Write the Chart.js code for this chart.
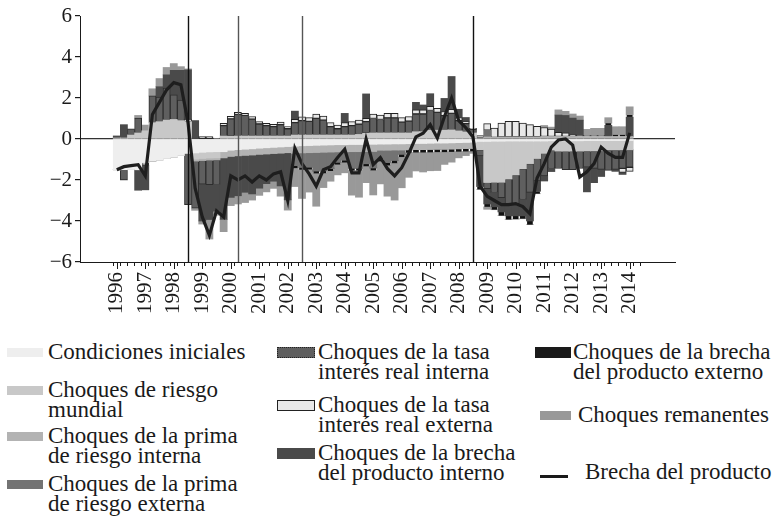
<!DOCTYPE html>
<html lang="es">
<head>
<meta charset="utf-8">
<title>Descomposición histórica de la brecha del producto</title>
<script src="https://cdn.jsdelivr.net/npm/chart.js@4.4.1/dist/chart.umd.min.js"></script>
<style>
  html, body { margin: 0; padding: 0; background: #fff; }
  body { width: 780px; height: 519px; position: relative; overflow: hidden;
         font-family: "Liberation Serif", "Times New Roman", serif; color: #1a1a1a; }
  #wrap { position: absolute; left: 0; top: 0; width: 780px; height: 330px; }
  .txt { position: absolute; font-size: 23px; line-height: 19.5px; white-space: nowrap; }
  .sw { position: absolute; box-sizing: border-box; }
</style>
</head>
<body>
<div id="wrap"><canvas id="chart" width="780" height="330"></canvas></div>

<!-- legend, three columns as in the source -->
<div class="sw" style="left:7px;top:348px;width:36px;height:9px;background:#eeeeee"></div>
<div class="txt" style="left:48px;top:342px">Condiciones iniciales</div>
<div class="sw" style="left:7px;top:386px;width:36px;height:9px;background:#c8c8c8"></div>
<div class="txt" style="left:48px;top:380px">Choques de riesgo<br>mundial</div>
<div class="sw" style="left:7px;top:432px;width:36px;height:9px;background:#b3b3b3"></div>
<div class="txt" style="left:48px;top:426px">Choques de la prima<br>de riesgo interna</div>
<div class="sw" style="left:7px;top:480px;width:36px;height:9px;background:#737373"></div>
<div class="txt" style="left:48px;top:474px">Choques de la prima<br>de riesgo externa</div>

<div class="sw" style="left:277px;top:347px;width:38px;height:11px;background:#5f5f5f;border:1px dotted #222"></div>
<div class="txt" style="left:318px;top:342px">Choques de la tasa<br>interés real interna</div>
<div class="sw" style="left:277px;top:400px;width:38px;height:11px;background:#e8e8e8;border:1px solid #222"></div>
<div class="txt" style="left:318px;top:395px">Choques de la tasa<br>interés real externa</div>
<div class="sw" style="left:277px;top:448px;width:38px;height:11px;background:#4a4a4a"></div>
<div class="txt" style="left:318px;top:443px">Choques de la brecha<br>del producto interno</div>

<div class="sw" style="left:535px;top:347px;width:36px;height:11px;background:#1a1a1a"></div>
<div class="txt" style="left:573px;top:342px">Choques de la brecha<br>del producto externo</div>
<div class="sw" style="left:540px;top:411px;width:31px;height:9px;background:#999999"></div>
<div class="txt" style="left:578px;top:405px">Choques remanentes</div>
<div class="sw" style="left:540px;top:475px;width:28px;height:3px;background:#1a1a1a"></div>
<div class="txt" style="left:585px;top:462px">Brecha del producto</div>

<script>
// quarterly, 1996T1 .. 2014T1 (73 quarters); year labels sit on each first quarter
const yearLabels = ['1996', '1997', '1998', '1999', '2000', '2001', '2002', '2003', '2004', '2005',
                    '2006', '2007', '2008', '2009', '2010', '2011', '2012', '2013', '2014'];

const condicionesIniciales = [
  -1.5, -1.5, -1.45, -1.5, -1.15, -1.07, -1.02, -0.95, -0.88, -0.8,
  -0.7, -0.68, -0.65, -0.63, -0.62, -0.62, -0.55, -0.52, -0.5, -0.48,
  -0.45, -0.43, -0.41, -0.39, -0.37, -0.35, -0.33, -0.32, -0.31, -0.3,
  -0.29, -0.28, -0.28, -0.27, -0.27, -0.26, -0.26, -0.25, -0.25, -0.24,
  -0.24, -0.23, -0.22, -0.22, -0.21, -0.2, -0.2, -0.19, -0.18, -0.17,
  -0.16, -0.12, -0.12, -0.11, -0.11, -0.1, -0.1, -0.1, -0.1, -0.1,
  -0.1, -0.09, -0.09, -0.09, -0.09, -0.09, -0.08, -0.08, -0.08, -0.08,
  -0.08, -0.08, -0.08
];
const riesgoMundial = [
  0.05, 0.05, 0.2, 0.3, 0.4, 0.8, 0.85, 0.93, 0.95, 0.9,
  0.85, -0.3, -0.3, -0.3, -0.3, 0.15, 0.13, 0.15, 0.15, 0.15,
  0.15, 0.15, 0.15, 0.15, 0.15, 0.2, 0.2, 0.2, 0.2, 0.2,
  0.2, 0.2, 0.2, 0.2, 0.22, 0.28, 0.3, 0.3, 0.3, 0.3,
  0.3, 0.3, 0.36, 0.36, 0.44, 0.44, 0.44, 0.45, 0.4, 0.35,
  0.3, -0.4, -2.0, -2.0, -2.0, -1.85, -1.65, -1.35, -1.1, -0.85,
  -0.6, -0.45, -0.5, -0.5, -0.5, -0.5, -0.5, -0.5, -0.5, -0.45,
  -0.45, -0.45, -0.45
];
const primaInterna = [
  0, 0, 0, 0, 0, 0, 0, 0, 0, 0,
  0, -0.1, -0.1, -0.1, -0.1, -0.3, -0.3, -0.3, -0.3, -0.3,
  -0.3, -0.3, -0.3, -0.3, -0.3, -0.35, -0.35, -0.35, -0.35, -0.35,
  -0.35, -0.35, -0.35, -0.35, -0.35, -0.35, -0.35, -0.3, -0.3, -0.3,
  -0.3, -0.3, -0.3, -0.3, -0.3, -0.3, -0.3, -0.3, -0.3, -0.3,
  -0.3, 0.05, 0.1, 0.08, 0.1, 0.1, 0.1, 0.1, 0.1, 0.1,
  0.12, 0.12, 0.12, 0.12, 0.12, 0.12, 0.12, 0.12, 0.12, 0.12,
  0.12, 0.12, 0.12
];
const primaExterna = [
  0, 0, 0, 0, 0, 0, 0, 0, 0, 0,
  0, 0, 0, 0, 0, 0, 0, 0, 0, 0,
  0, 0, 0, 0, 0, -0.6, -0.7, -0.7, -0.9, -0.9,
  -0.8, -0.5, -0.4, -0.8, -0.8, -0.6, -0.8, -0.4, -0.6, -0.5,
  -0.2, 0, 0, 0, 0, 0, 0, 0, 0, 0,
  0, 0, 0.33, 0, 0, 0, 0, 0, 0, 0,
  0, 0, 0, 0, 0, 0, 0, 0, 0, 0,
  0, 0, 0
];
const tasaInterna = [
  0, -0.5, 0.3, 0.72, 0, 1.3, 1.2, 1.55, 1.2, 1.0,
  -2.5, -2.3, -1.15, -1.2, -1.2, 0.5, 0.85, 1.05, 1.0, 0.82,
  0.58, 0.5, 0.45, 0.55, 0.35, 0.6, 0.7, 0.66, 0.81, 0.72,
  0.4, 0.3, 0.4, 0.45, 0.5, 0.57, 0.7, 0.65, 0.73, 0.73,
  0.52, 0.57, 0.86, 0.86, 0.95, 0.86, 0.7, 0.8, 0.5, 0.4,
  0.17, -0.3, -0.3, -0.5, -0.75, -1.2, -1.4, -1.5, -1.4, -1.1,
  -1.1, -0.9, -0.85, -0.9, -0.9, -0.85, -0.8, -0.85, -0.9, -1.0,
  -0.95, -0.9, -0.85
];
const tasaExterna = [
  0, 0, 0, 0, -0.13, 0, 0, 0, 0, 0,
  0.12, 0, 0.12, 0.12, 0.05, 0.12, 0.12, 0.1, 0.1, 0.12,
  0.12, 0.12, 0.12, 0.12, 0.1, 0.16, 0.18, 0.18, 0.2, 0.2,
  0.2, 0.18, 0.2, 0.2, 0.2, 0.16, 0.22, 0.22, 0.22, 0.22,
  0.22, 0.22, 0.2, 0.2, 0.2, 0.2, 0.2, 0.2, 0.15, 0.1,
  0.05, 0.12, 0.32, 0.45, 0.68, 0.76, 0.76, 0.68, 0.6, 0.52,
  0.44, 0.36, 0.2, 0.18, 0.1, 0.05, 0.05, 0.05, 0.05, 0,
  0, -0.2, -0.2
];
const brechaInterno = [
  0.1, 0.65, 0, -1.0, -1.2, 0, 0.5, 0.65, 1.2, 1.45,
  2.4, 0.9, -1.8, -1.7, -1.3, -3.0, -2.0, -1.95, -1.8, -1.9,
  -1.65, -1.45, -1.35, -1.6, -2.3, 0.4, 0, 0, 0, 0,
  0, 0, 0.45, 0, 0, 1.19, 0, 0, 0, 0,
  0, 0, 0.37, 0.24, 0.62, 0, 0.64, 1.6, 0.4, 0.2,
  0, -1.5, -0.75, -0.7, -0.7, -0.6, -0.6, -0.8, -1.4, -0.5,
  -0.25, -0.15, 0.85, 0.85, 0.8, 0.75, -1.2, -0.7, -0.35, 0.55,
  -0.1, -0.1, 0.95
];
const brechaExterno = [
  0, 0, 0, 0, 0, 0, 0, 0, 0, 0,
  0, 0, 0, 0, 0, 0, 0, 0, 0, 0,
  0, 0, 0, 0, 0, -0.12, -0.12, -0.12, -0.12, -0.12,
  -0.12, -0.12, -0.12, -0.12, -0.12, -0.12, -0.12, -0.14, -0.14, -0.14,
  -0.14, -0.14, -0.14, -0.14, -0.14, -0.14, -0.14, -0.14, -0.14, -0.14,
  -0.14, -0.14, -0.14, -0.14, -0.18, -0.18, -0.16, -0.14, -0.18, -0.12,
  0, 0, 0, 0, 0, 0, 0, 0, 0, 0.1,
  0.08, 0.08, 0.1
];
const remanentes = [
  0, 0, 0, 0.13, 0.28, 0.35, 0.4, 0.36, 0.33, 0.18,
  0.05, -0.1, -0.15, -0.95, -0.2, -0.6, -0.4, -0.4, -0.5, -0.3,
  -0.35, -0.4, -0.35, -0.5, -0.5, -0.9, -1.4, -1.1, -1.6, -0.7,
  -0.5, -0.5, -0.5, -1.2, -1.3, -0.8, -1.2, -1.1, -1.5, -1.8,
  -1.5, -1.2, -0.9, -0.95, -0.9, -0.9, -0.6, -0.5, -0.3, -0.2,
  -0.1, 0, -0.12, 0, 0, 0, 0, 0, 0, 0,
  0.1, 0.1, 0.25, 0.2, 0.2, 0.2, 0.3, 0.35, 0.35, 0.27,
  0.4, 0.4, 0.4
];
const brechaProducto = [
  -1.5, -1.35, -1.3, -1.25, -1.8, 1.2, 1.8, 2.4, 2.75, 2.65,
  0.8, -2.4, -3.8, -4.7, -3.5, -3.8, -1.8, -2.0, -1.8, -2.1,
  -1.8, -2.0, -1.7, -1.6, -3.0, -0.45, -1.2, -1.7, -2.3, -1.5,
  -1.35, -0.9, -0.5, -1.65, -1.65, 0.0, -1.25, -0.9, -1.45, -1.8,
  -1.4, -0.7, 0.1, 0.28, 0.7, 0.05, 1.1, 2.0, 0.9, 0.55,
  0.1, -2.3, -2.8, -3.0, -3.2, -3.2, -3.15, -3.3, -3.65, -1.9,
  -1.2, -0.4, -0.05, 0.0, -0.3, -1.85, -1.6, -1.2, -0.4, -0.7,
  -0.9, -0.9, 0.3
];

// quarters where the source marks an episode with a vertical rule
const eventQuarters = [10, 17, 26, 50];
const eventColors = ['#111', '#555', '#555', '#111'];

const SERIF = '"Liberation Serif", "Times New Roman", serif';
const INK = '#1a1a1a';

const toPoints = arr => arr.map((v, i) => ({ x: i, y: v }));

const barSeries = [
  { label: 'Condiciones iniciales', data: condicionesIniciales, fill: '#eeeeee' },
  { label: 'Choques de riesgo mundial', data: riesgoMundial, fill: '#c8c8c8' },
  { label: 'Choques de la prima de riesgo interna', data: primaInterna, fill: '#b3b3b3' },
  { label: 'Choques de la prima de riesgo externa', data: primaExterna, fill: '#737373' },
  { label: 'Choques de la tasa interés real interna', data: tasaInterna, fill: '#5f5f5f', edge: '#2e2e2e' },
  { label: 'Choques de la tasa interés real externa', data: tasaExterna, fill: '#e8e8e8', edge: '#222' },
  { label: 'Choques de la brecha del producto interno', data: brechaInterno, fill: '#4a4a4a' },
  { label: 'Choques de la brecha del producto externo', data: brechaExterno, fill: '#111111', narrow: true },
  { label: 'Choques remanentes', data: remanentes, fill: '#999999' }
];

const datasets = barSeries.map(s => ({
  type: 'bar',
  label: s.label,
  data: toPoints(s.data),
  backgroundColor: s.fill,
  borderColor: s.edge || s.fill,
  borderWidth: s.edge ? 1 : 0,
  borderSkipped: false,
  barPercentage: s.narrow ? 0.8 : 1,
  categoryPercentage: 1,
  stack: 'choques',
  order: 1
}));

datasets.push({
  type: 'line',
  label: 'Brecha del producto',
  data: toPoints(brechaProducto),
  borderColor: '#1e1e1e',
  borderWidth: 3.2,
  pointRadius: 0,
  tension: 0,
  fill: false,
  stack: 'linea',
  order: 0
});

// vertical episode rules and the longer year ticks
const decor = {
  id: 'decor',
  afterDatasetsDraw(chart) {
    const { ctx, chartArea, scales: { x } } = chart;
    ctx.save();
    eventQuarters.forEach((q, k) => {
      const px = Math.round(x.getPixelForValue(q)) + 0.5;
      ctx.strokeStyle = eventColors[k];
      ctx.lineWidth = 1.4;
      ctx.beginPath();
      ctx.moveTo(px, chartArea.top);
      ctx.lineTo(px, chartArea.bottom);
      ctx.stroke();
    });
    ctx.strokeStyle = INK;
    ctx.lineWidth = 1;
    yearLabels.forEach((_, k) => {
      const px = Math.round(x.getPixelForValue(k * 4)) + 0.5;
      ctx.beginPath();
      ctx.moveTo(px, chartArea.bottom);
      ctx.lineTo(px, chartArea.bottom + 7);
      ctx.stroke();
    });
    ctx.restore();
  }
};

Chart.defaults.font.family = SERIF;
Chart.defaults.color = INK;

new Chart(document.getElementById('chart'), {
  type: 'bar',
  data: { datasets },
  plugins: [decor],
  options: {
    responsive: false,
    animation: false,
    devicePixelRatio: 1,
    layout: { padding: { left: 0, right: 105, top: 16, bottom: 0 } },
    plugins: { legend: { display: false }, tooltip: { enabled: false } },
    scales: {
      x: {
        type: 'linear',
        stacked: true,
        min: -4.6,
        max: 77.8,
        afterBuildTicks: scale => {
          scale.ticks = [];
          for (let i = 0; i <= brechaProducto.length; i++) scale.ticks.push({ value: i });
        },
        afterFit: scale => { scale.height = 68; },
        grid: { drawOnChartArea: false, tickLength: 4, tickColor: INK },
        border: { display: true, color: INK, width: 1 },
        ticks: {
          autoSkip: false,
          minRotation: 90,
          maxRotation: 90,
          padding: 6,
          color: INK,
          font: { family: SERIF, size: 21 },
          callback: v => (v % 4 === 0 && yearLabels[v / 4]) ? yearLabels[v / 4] : ''
        }
      },
      y: {
        stacked: true,
        min: -6,
        max: 6,
        afterFit: scale => { scale.width = 80; },
        grid: {
          drawOnChartArea: true,
          color: c => (c.tick && c.tick.value === 0) ? '#333' : 'rgba(0,0,0,0)',
          lineWidth: 1.2,
          tickLength: 5,
          tickColor: INK
        },
        border: { display: true, color: INK, width: 1 },
        ticks: {
          stepSize: 2,
          padding: 3,
          color: INK,
          font: { family: SERIF, size: 21 },
          callback: v => v < 0 ? '\u2212' + Math.abs(v) : String(v)
        }
      }
    }
  }
});
</script>
</body>
</html>
